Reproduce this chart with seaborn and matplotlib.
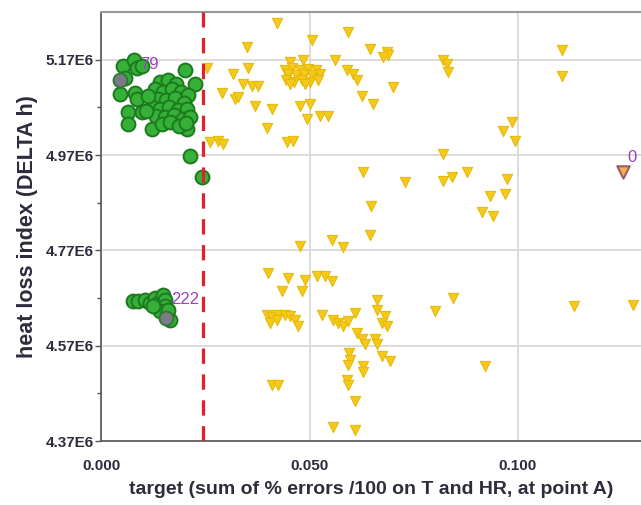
import matplotlib
matplotlib.use("Agg")
import matplotlib.pyplot as plt
import matplotlib.ticker as mticker
import seaborn as sns
import pandas as pd
import numpy as np

# green cluster (target, heat loss index in millions)
green_x = [0.0053, 0.0079, 0.0086, 0.0098, 0.0058, 0.0046, 0.0082, 0.0086, 0.0065, 0.0098,
           0.0065, 0.0122, 0.0202, 0.0226, 0.0206, 0.0214, 0.0242,
           0.0142, 0.0161, 0.0180, 0.0130, 0.0149, 0.0170, 0.0192, 0.0209, 0.0137, 0.0156,
           0.0178, 0.0199, 0.0122, 0.0142, 0.0163, 0.0185, 0.0206, 0.0132, 0.0154, 0.0175,
           0.0197, 0.0214, 0.0146, 0.0166, 0.0187, 0.0204, 0.0113, 0.0108,
           0.0077, 0.0089, 0.0106, 0.0118, 0.0130, 0.0137, 0.0149, 0.0154, 0.0154, 0.0142,
           0.0158, 0.0166, 0.0125, 0.0161]
green_y = [5.157, 5.170, 5.153, 5.157, 5.132, 5.097, 5.101, 5.087, 5.060, 5.060,
           5.035, 5.024, 5.149, 5.118, 5.024, 4.968, 4.924,
           5.124, 5.128, 5.120, 5.108, 5.103, 5.108, 5.103, 5.095, 5.087, 5.085,
           5.089, 5.080, 5.070, 5.066, 5.070, 5.064, 5.066, 5.051, 5.049, 5.053,
           5.045, 5.049, 5.035, 5.039, 5.030, 5.037, 5.093, 5.062,
           4.664, 4.664, 4.666, 4.660, 4.670, 4.660, 4.676, 4.666, 4.653, 4.643,
           4.635, 4.624, 4.653, 4.645]

# yellow triangles
yellow_x = [0.0422, 0.0506, 0.0593, 0.0350, 0.0454, 0.0485, 0.0562, 0.0254, 0.0353, 0.0317,
            0.0590, 0.0442, 0.0458, 0.0478, 0.0497, 0.0516, 0.0449, 0.0468, 0.0487, 0.0506,
            0.0526, 0.0444, 0.0463, 0.0482, 0.0501, 0.0521, 0.0454, 0.0490, 0.0341, 0.0362,
            0.0377, 0.0290, 0.0321, 0.0329, 0.0370, 0.0410, 0.0478, 0.0502, 0.0494, 0.0526,
            0.0545, 0.0398, 0.0262, 0.0281, 0.0293, 0.0446, 0.0461, 0.0646, 0.0686, 0.0689,
            0.0677, 0.0821, 0.0830, 0.0833, 0.0605, 0.0614, 0.0701, 0.0626, 0.0652, 0.0986,
            0.0965, 0.0994, 0.0821, 0.0628, 0.0729, 0.0821, 0.0842, 0.0878, 0.0974, 0.0969,
            0.0933, 0.0648, 0.0914, 0.0941, 0.1106, 0.1106, 0.0554, 0.0581, 0.0646, 0.0478,
            0.0401, 0.0449, 0.0490, 0.0518, 0.0538, 0.0554, 0.0434, 0.0482, 0.0530, 0.0557,
            0.0569, 0.0581, 0.0593, 0.0610, 0.0662, 0.0662, 0.0681, 0.0674, 0.0686, 0.0614,
            0.0626, 0.0633, 0.0657, 0.0662, 0.0674, 0.0693, 0.0595, 0.0597, 0.0593, 0.0628,
            0.0628, 0.0590, 0.0593, 0.0610, 0.0557, 0.0610, 0.0802, 0.0845, 0.0922, 0.1135,
            0.1276, 0.0398, 0.0410, 0.0425, 0.0442, 0.0454, 0.0466, 0.0473, 0.0406, 0.0422,
            0.0410, 0.0425]
yellow_y = [5.247, 5.212, 5.228, 5.197, 5.166, 5.170, 5.170, 5.153, 5.153, 5.139,
            5.149, 5.149, 5.153, 5.149, 5.151, 5.149, 5.139, 5.137, 5.141, 5.137,
            5.141, 5.128, 5.124, 5.128, 5.124, 5.128, 5.118, 5.118, 5.118, 5.114,
            5.114, 5.101, 5.087, 5.091, 5.072, 5.066, 5.072, 5.076, 5.045, 5.051,
            5.051, 5.026, 4.997, 4.999, 4.993, 4.997, 4.999, 5.193, 5.187, 5.180,
            5.176, 5.170, 5.160, 5.145, 5.139, 5.128, 5.112, 5.093, 5.076, 5.039,
            5.020, 4.999, 4.972, 4.935, 4.914, 4.916, 4.924, 4.935, 4.920, 4.889,
            4.883, 4.864, 4.851, 4.843, 5.191, 5.135, 4.791, 4.778, 4.803, 4.780,
            4.722, 4.712, 4.708, 4.716, 4.716, 4.706, 4.685, 4.685, 4.635, 4.624,
            4.618, 4.612, 4.622, 4.639, 4.666, 4.645, 4.633, 4.618, 4.612, 4.597,
            4.583, 4.574, 4.583, 4.574, 4.549, 4.537, 4.555, 4.539, 4.530, 4.528,
            4.514, 4.497, 4.487, 4.455, 4.399, 4.393, 4.643, 4.670, 4.528, 4.653,
            4.656, 4.635, 4.631, 4.635, 4.635, 4.633, 4.624, 4.612, 4.618, 4.624,
            4.487, 4.487]

# labelled points
lab_names = ["79", "222", "0"]
lab_x = [0.0046, 0.0156, 0.1253]
lab_y = [5.128, 4.628, 4.935]

threshold = 0.0245

g = pd.DataFrame({"x": green_x, "y": np.array(green_y) * 1e6})
yv = pd.DataFrame({"x": yellow_x, "y": np.array(yellow_y) * 1e6})

sns.set_style("white")
plt.rcParams["font.family"] = ["Liberation Sans", "DejaVu Sans"]
fig = plt.figure(figsize=(6.41, 5.05), dpi=100)
ax = fig.add_axes([0.1576, 0.1267, 0.8424, 0.8495])

ax.grid(True, color="#d9d9d9", lw=1.3, zorder=0)
ax.set_axisbelow(True)

sns.scatterplot(data=yv, x="x", y="y", marker="v", s=55, color="#f4c81c",
                edgecolor="#e6b800", linewidth=0.7, ax=ax, zorder=3)
sns.scatterplot(data=g, x="x", y="y", marker="o", s=100, color="#36b038",
                edgecolor="#1c7a1e", linewidth=1.4, ax=ax, zorder=4)

# highlighted points
ax.scatter(lab_x[:2], np.array(lab_y[:2]) * 1e6, marker="o", s=100, color="#7d7a88",
           edgecolor="#2e7a30", linewidth=1.4, zorder=5)
ax.scatter(lab_x[2:], np.array(lab_y[2:]) * 1e6, marker="v", s=80, color="#f5b04a",
           edgecolor="#9a5a70", linewidth=1.5, zorder=5)
offsets = [(14, 11), (4, 13), (3, 10)]
for name, x, y, off in zip(lab_names, lab_x, lab_y, offsets):
    ax.annotate(name, (x, y * 1e6), xytext=off, textcoords="offset points",
                color="#9b3fc0", fontsize=12, ha="left", va="center", zorder=6)

ax.axvline(threshold, color="#e0202c", lw=2.3, dashes=(4.8, 3.3), zorder=4)

ax.set_xlim(0, 0.1295)
ax.set_ylim(4.37e6, 5.27e6)
ax.set_xticks([0.0, 0.05, 0.1])
ax.xaxis.set_major_formatter(mticker.FormatStrFormatter("%.3f"))
yt = [4.37e6, 4.57e6, 4.77e6, 4.97e6, 5.17e6]
ax.set_yticks(yt)
ax.set_yticklabels([f"{v/1e6:.2f}E6" for v in yt])
ax.yaxis.set_minor_locator(mticker.FixedLocator([4.47e6, 4.67e6, 4.87e6, 5.07e6]))

for sp in ["left", "bottom"]:
    ax.spines[sp].set_color("#555555")
    ax.spines[sp].set_linewidth(1.2)
ax.spines["top"].set_color("#999999")
ax.spines["top"].set_linewidth(1.5)
ax.spines["right"].set_visible(False)

ax.tick_params(axis="y", which="major", direction="out", length=4, width=1, color="#555555",
               left=True, labelsize=11, labelcolor="#2c2c3c", pad=1)
ax.tick_params(axis="y", which="minor", direction="out", length=3, width=1, color="#555555",
               left=True)
ax.tick_params(axis="x", which="major", length=0, labelsize=11, labelcolor="#2c2c3c", pad=13)
for lab in ax.get_xticklabels() + ax.get_yticklabels():
    lab.set_fontweight("bold")

ax.set_xlabel("target (sum of % errors /100 on T and HR, at point A)", fontsize=14,
              fontweight="bold", color="#2c2c3c", labelpad=6)
ax.set_ylabel("heat loss index (DELTA h)", fontsize=15.5, fontweight="bold",
              color="#2c2c3c", labelpad=6)

fig.savefig("out.png", dpi=100)
